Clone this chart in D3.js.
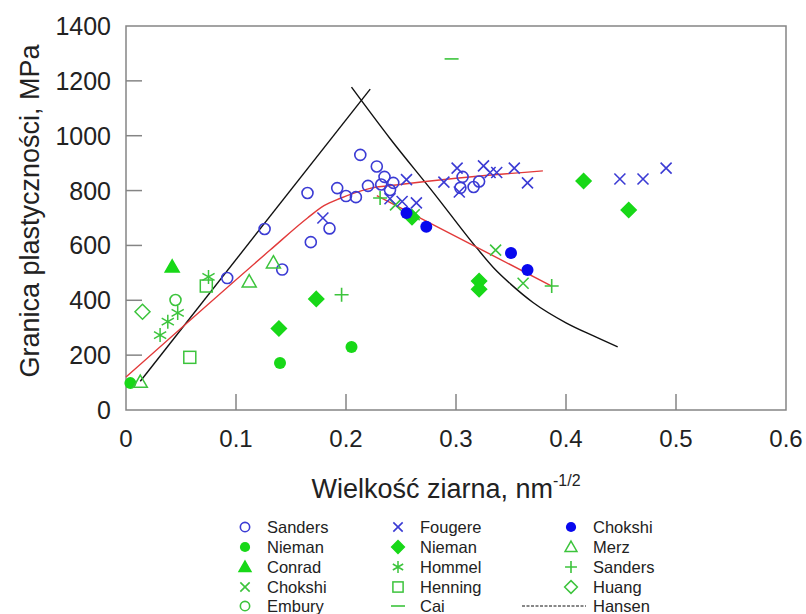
<!DOCTYPE html>
<html>
<head>
<meta charset="utf-8">
<script src="https://cdn.jsdelivr.net/npm/d3@7"></script>
<style>
  body { margin: 0; background: #fff; }
  svg { font-family: "Liberation Sans", Arial, sans-serif; }
</style>
</head>
<body>
<svg width="806" height="614"></svg>
<script>
// data: [grain size nm^-1/2, yield stress MPa]
const sandersBlue = [[0.092,481],[0.126,660],[0.142,512],[0.165,791],[0.168,612],[0.185,662],[0.192,809],[0.200,780],[0.209,776],[0.213,930],[0.220,817],[0.228,888],[0.232,822],[0.235,850],[0.240,802],[0.243,828],[0.304,810],[0.306,850],[0.316,813],[0.321,833]];
const fougere = [[0.179,700],[0.240,770],[0.251,760],[0.255,840],[0.264,755],[0.289,831],[0.301,882],[0.303,795],[0.325,890],[0.331,866],[0.337,866],[0.353,882],[0.365,828],[0.449,842],[0.470,842],[0.491,882]];
const chokshiBlue = [[0.255,718],[0.273,668],[0.350,572],[0.365,510]];
const niemanCircle = [[0.004,98],[0.140,171],[0.205,230]];
const niemanDiamond = [[0.139,297],[0.173,405],[0.260,703],[0.321,470],[0.321,440],[0.416,835],[0.457,729]];
const conrad = [[0.042,522]];
const chokshiGreen = [[0.245,748],[0.262,712],[0.336,583],[0.361,462]];
const embury = [[0.045,401]];
const hommel = [[0.031,273],[0.038,322],[0.047,354],[0.075,485]];
const henning = [[0.058,192],[0.073,452]];
const cai = [[0.296,1280]];
const merz = [[0.013,102],[0.112,468],[0.134,537]];
const sandersGreen = [[0.196,420],[0.231,773],[0.387,452]];
const huang = [[0.015,358]];
const hansenUp = [[0.013,105],[0.222,1170]];
const hansenDown = [[0.205,1177],[0.240,990],[0.280,790],[0.319,590],[0.335,515],[0.350,458],[0.370,392],[0.400,318],[0.425,270],[0.447,230]];
const fitRising = [[0.000,120],[0.131,583],[0.165,700],[0.180,745],[0.195,772],[0.222,808],[0.249,822],[0.300,845],[0.379,872]];
const fitFalling = [[0.228,782],[0.387,452]];
const xTicks = [0, 0.1, 0.2, 0.3, 0.4, 0.5, 0.6];
const yTicks = [0, 200, 400, 600, 800, 1000, 1200, 1400];

const blue = "#3b3bd4", blueFill = "#0808ee", green = "#18d818", greenOpen = "#3cc43c";

const margin = {left: 126, top: 26, right: 20};
const plotW = 660, plotH = 384;

const svg = d3.select("svg");
const x = d3.scaleLinear().domain([0, 0.6]).range([margin.left, margin.left + plotW]);
const y = d3.scaleLinear().domain([0, 1400]).range([margin.top + plotH, margin.top]);

// frame
svg.append("rect")
  .attr("x", x(0)).attr("y", y(1400))
  .attr("width", plotW).attr("height", plotH)
  .attr("fill", "none").attr("stroke", "#858585").attr("stroke-width", 1.5);

// inward ticks
svg.append("g").selectAll("line").data(xTicks.slice(1, -1)).enter().append("line")
  .attr("x1", d => x(d)).attr("x2", d => x(d))
  .attr("y1", y(0)).attr("y2", y(0) - 16)
  .attr("stroke", "#858585").attr("stroke-width", 1.5);
svg.append("g").selectAll("line").data(yTicks.slice(1, -1)).enter().append("line")
  .attr("x1", x(0)).attr("x2", x(0) + 16)
  .attr("y1", d => y(d)).attr("y2", d => y(d))
  .attr("stroke", "#858585").attr("stroke-width", 1.5);

// tick labels
svg.append("g").selectAll("text").data(xTicks).enter().append("text")
  .attr("x", d => x(d)).attr("y", y(0) + 37)
  .attr("text-anchor", "middle").attr("font-size", 24).attr("fill", "#222")
  .text(d => d === 0 ? "0" : d3.format(".1f")(d));
svg.append("g").selectAll("text").data(yTicks).enter().append("text")
  .attr("x", x(0) - 15).attr("y", d => y(d) + 9)
  .attr("text-anchor", "end").attr("font-size", 25).attr("fill", "#222")
  .text(d => d);

// axis titles
let xt = svg.append("text")
  .attr("x", 446).attr("y", 498)
  .attr("text-anchor", "middle").attr("font-size", 27).attr("fill", "#222");
xt.append("tspan").text("Wielkość ziarna, nm");
xt.append("tspan").attr("dy", -12).attr("font-size", 16).text("-1/2");

svg.append("text")
  .attr("transform", "translate(39,211) rotate(-90)")
  .attr("text-anchor", "middle").attr("font-size", 27).attr("fill", "#222")
  .text("Granica plastyczności, MPa");

// marker drawing
function marker(g, type, color, s) {
  s = s || 1;
  if (type === "circle") {
    g.append("circle").attr("r", 5.5 * s).attr("fill", "none").attr("stroke", color).attr("stroke-width", 1.6);
  } else if (type === "dot") {
    g.append("circle").attr("r", 6 * s).attr("fill", color);
  } else if (type === "tri" || type === "triOpen") {
    let r = 7 * s;
    g.append("path").attr("d", `M0,${-r} L${r},${r*0.75} L${-r},${r*0.75}Z`)
      .attr("fill", type === "tri" ? color : "none").attr("stroke", color).attr("stroke-width", 1.5);
  } else if (type === "diamond" || type === "diamondOpen") {
    let r = 7.5 * s;
    g.append("path").attr("d", `M0,${-r} L${r},0 L0,${r} L${-r},0Z`)
      .attr("fill", type === "diamond" ? color : "none").attr("stroke", color).attr("stroke-width", 1.5);
  } else if (type === "x") {
    let r = 5.5 * s;
    g.append("path").attr("d", `M${-r},${-r}L${r},${r}M${-r},${r}L${r},${-r}`)
      .attr("stroke", color).attr("stroke-width", 1.6);
  } else if (type === "plus") {
    let r = 7 * s;
    g.append("path").attr("d", `M${-r},0L${r},0M0,${-r}L0,${r}`)
      .attr("stroke", color).attr("stroke-width", 1.6);
  } else if (type === "star") {
    let r = 7 * s, a = r * 0.87, b = r * 0.5;
    g.append("path").attr("d", `M0,${-r}L0,${r}M${-a},${-b}L${a},${b}M${-a},${b}L${a},${-b}`)
      .attr("stroke", color).attr("stroke-width", 1.5);
  } else if (type === "square") {
    let r = 6 * s;
    g.append("rect").attr("x", -r).attr("y", -r).attr("width", 2 * r).attr("height", 2 * r)
      .attr("fill", "none").attr("stroke", color).attr("stroke-width", 1.5);
  } else if (type === "dash") {
    g.append("path").attr("d", "M-7,0L7,0").attr("stroke", color).attr("stroke-width", 1.6);
  }
}

const series = [
  {name: "Sanders", data: sandersBlue, type: "circle", color: blue},
  {name: "Nieman", data: niemanCircle, type: "dot", color: green},
  {name: "Conrad", data: conrad, type: "tri", color: green},
  {name: "Chokshi", data: chokshiGreen, type: "x", color: greenOpen},
  {name: "Embury", data: embury, type: "circle", color: greenOpen},
  {name: "Fougere", data: fougere, type: "x", color: blue},
  {name: "Nieman", data: niemanDiamond, type: "diamond", color: green},
  {name: "Hommel", data: hommel, type: "star", color: greenOpen},
  {name: "Henning", data: henning, type: "square", color: greenOpen},
  {name: "Cai", data: cai, type: "dash", color: greenOpen},
  {name: "Chokshi", data: chokshiBlue, type: "dot", color: blueFill},
  {name: "Merz", data: merz, type: "triOpen", color: greenOpen},
  {name: "Sanders", data: sandersGreen, type: "plus", color: greenOpen},
  {name: "Huang", data: huang, type: "diamondOpen", color: greenOpen},
  {name: "Hansen", data: null, type: "line", color: "#111"}
];

// Hansen model and fitted lines
let line = d3.line().x(d => x(d[0])).y(d => y(d[1]));
let curvy = d3.line().x(d => x(d[0])).y(d => y(d[1])).curve(d3.curveMonotoneX);
svg.append("path").attr("d", line(hansenUp)).attr("fill", "none").attr("stroke", "#111").attr("stroke-width", 1.4);
svg.append("path").attr("d", curvy(hansenDown)).attr("fill", "none").attr("stroke", "#111").attr("stroke-width", 1.4);
svg.append("path").attr("d", curvy(fitRising)).attr("fill", "none").attr("stroke", "#e23a3a").attr("stroke-width", 1.4);
svg.append("path").attr("d", line(fitFalling)).attr("fill", "none").attr("stroke", "#e23a3a").attr("stroke-width", 1.4);

// points
series.filter(s => s.data).forEach(s => {
  s.data.forEach(d => {
    let g = svg.append("g").attr("transform", "translate(" + x(d[0]) + "," + y(d[1]) + ")");
    marker(g, s.type, s.color);
  });
});

// legend, 3 columns x 5 rows
const colX = [245, 398, 571];
const rowY = [527, 547, 567, 587, 606];
series.forEach((s, i) => {
  let c = Math.floor(i / 5), r = i % 5;
  let g = svg.append("g").attr("transform", "translate(" + colX[c] + "," + rowY[r] + ")");
  if (s.type === "line") {
    g.append("line").attr("x1", -49).attr("x2", 15).attr("stroke", "#111")
      .attr("stroke-width", 1).attr("stroke-dasharray", "3,1.5");
  } else {
    marker(g, s.type, s.color, 0.85);
  }
  svg.append("text").attr("x", colX[c] + 22).attr("y", rowY[r] + 6)
    .attr("font-size", 16.5).attr("fill", "#222").text(s.name);
});
</script>
</body>
</html>
